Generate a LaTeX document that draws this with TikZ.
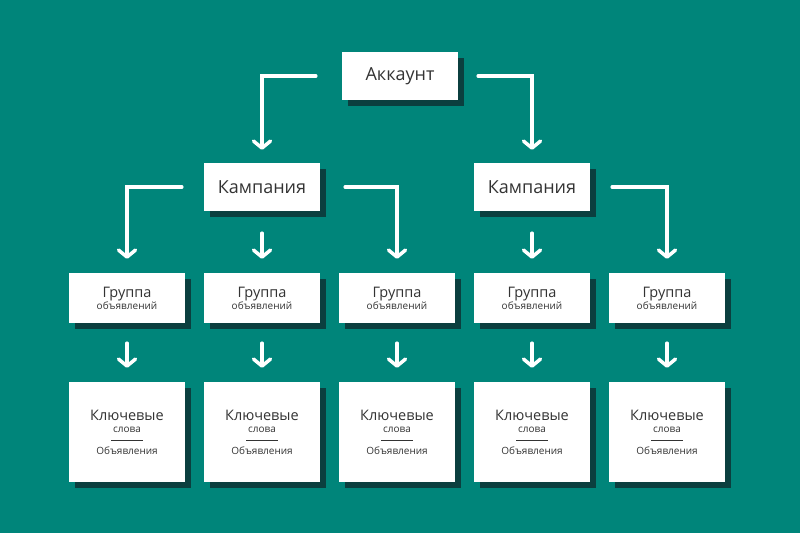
\documentclass[tikz,border=0pt]{standalone}
\usepackage{fontspec}
\setmainfont{Open Sans}
\usetikzlibrary{arrows.meta}
\definecolor{bg}{HTML}{00857A}
\definecolor{shd}{HTML}{0B3F3F}
\definecolor{txt}{HTML}{333333}
\begin{document}
\begin{tikzpicture}[x=1pt,y=-1pt,
  box/.style={fill=white,draw=none,minimum width=116pt,inner sep=0pt,align=center,text=txt},
  arr/.style={draw=white,line width=3.5pt,line cap=round,line join=miter,-{Straight Barb[length=7pt,width=17pt,line cap=round,line join=round]}}]
\fill[bg] (0,0) rectangle (800,533);
\newcommand{\mybox}[6]{% name, cx, cy, w, h, text
  \fill[shd] (#2-#4/2+6,#3-#5/2+6) rectangle (#2+#4/2+6,#3+#5/2+6);
  \node[box,minimum width=#4pt,minimum height=#5pt] (#1) at (#2,#3) {#6};}
\mybox{acc}{400}{76}{116}{48}{\fontsize{18}{20}\selectfont Аккаунт}
\mybox{c1}{262}{187}{116}{48}{\fontsize{18}{20}\selectfont Кампания}
\mybox{c2}{532}{187}{116}{48}{\fontsize{18}{20}\selectfont Кампания}
\foreach \i/\x in {1/127,2/262,3/397,4/532,5/667}{
  \mybox{g\i}{\x}{298}{116}{50}{\fontsize{14.5}{19.5}\selectfont Группа\\объявлений}
  \mybox{k\i}{\x}{432}{116}{100}{\fontsize{14.5}{20}\selectfont Ключевые\\слова\\[-3pt]\rule{32pt}{1.6pt}\\[1pt]Объявления}
  \draw[arr,shorten <=20pt,shorten >=14pt] (g\i) -- (k\i);
}
\draw[arr,shorten <=26pt,shorten >=13pt] (acc.west) -| (c1.north);
\draw[arr,shorten <=20pt,shorten >=13pt] (acc.east) -| (c2.north);
\draw[arr,shorten <=22pt,shorten >=14pt] (c1.west) -| (g1.north);
\draw[arr,shorten <=22pt,shorten >=14pt] (c1) -- (g2);
\draw[arr,shorten <=25pt,shorten >=14pt] (c1.east) -| (g3.north);
\draw[arr,shorten <=22pt,shorten >=14pt] (c2) -- (g4);
\draw[arr,shorten <=22pt,shorten >=14pt] (c2.east) -| (g5.north);
\end{tikzpicture}
\end{document}
